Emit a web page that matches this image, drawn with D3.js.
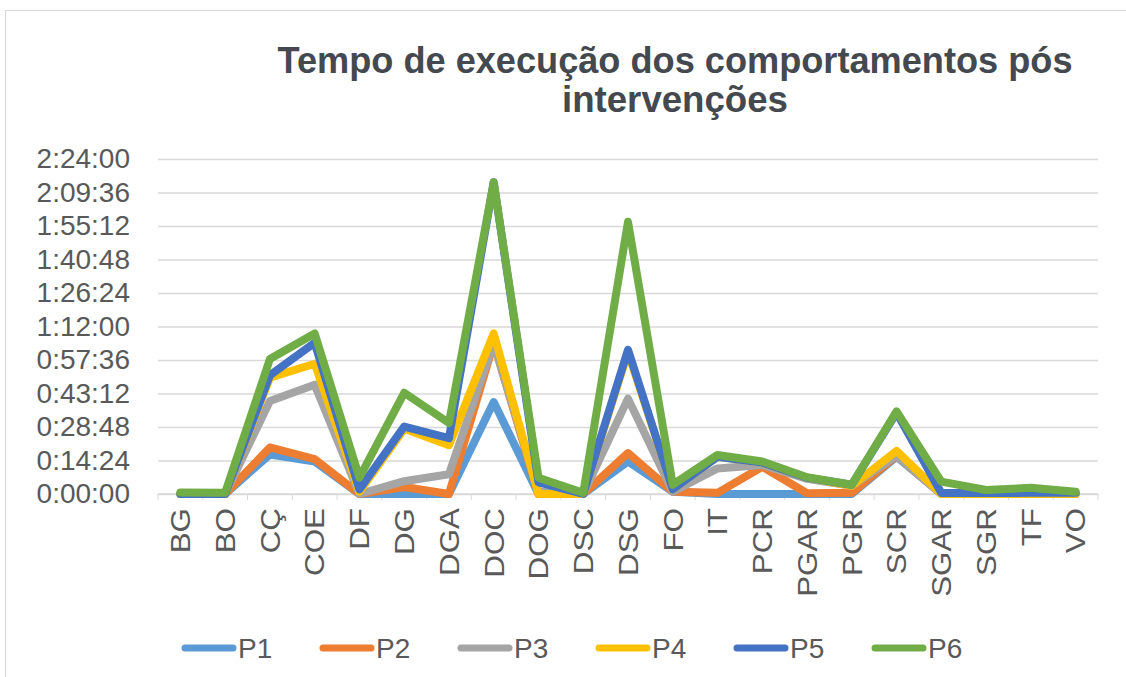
<!DOCTYPE html>
<html>
<head>
<meta charset="utf-8">
<script src="https://cdn.jsdelivr.net/npm/d3@7"></script>
<style>
  body { margin: 0; background: #fff; }
  svg { display: block; font-family: "Liberation Sans", Arial, sans-serif; }
</style>
</head>
<body>
<div id="chart"></div>
<script>
// categories (behaviours) and time per participant, in minutes
const categories = ['BG', 'BO', 'CÇ', 'COE', 'DF', 'DG', 'DGA', 'DOC', 'DOG', 'DSC', 'DSG',
    'FO', 'IT', 'PCR', 'PGAR', 'PGR', 'SCR', 'SGAR', 'SGR', 'TF', 'VO'];
const seriesNames = ['P1', 'P2', 'P3', 'P4', 'P5', 'P6'];
const p1 = [0, 0, 17, 14, 0, 0, 0, 39.5, 0, 0, 14, 1, 0, 0, 0, 0, 16, 0, 0, 0, 0];
const p2 = [0, 0, 20, 15, 0, 3, 0, 65, 0, 0, 17.6, 1, 0.5, 11.7, 0.3, 0.5, 16.5, 0, 0, 0, 0];
const p3 = [0, 0, 40, 47, 0, 5.5, 8.5, 65, 1, 0, 41, 1, 11, 12.5, 6.5, 3.5, 16.5, 0, 0, 0, 0];
const p4 = [0, 0, 50, 56, 1, 28, 21, 69, 0, 0, 61, 2, 16, 13.5, 7, 3.5, 18.5, 0, 0, 0, 0];
const p5 = [0, 0, 51, 65, 2, 29, 24, 134, 5, 0, 62, 2, 16, 13.5, 7, 4, 35, 0.4, 0.4, 0.5, 0.5];
const p6 = [0.6, 0.5, 58, 69, 7, 43.5, 30.5, 134, 7, 0.5, 117, 4, 16.8, 14, 7.2, 4, 35.5, 5.3, 1.7, 2.7, 1];
const seriesValues = [p1, p2, p3, p4, p5, p6];
const colors = ['#5B9BD5', '#ED7D31', '#A5A5A5', '#FFC000', '#4472C4', '#70AD47'];
const yTicks = [0, 14.4, 28.8, 43.2, 57.6, 72, 86.4, 100.8, 115.2, 129.6, 144];

const width = 1126, height = 677;
const plot = {left: 158, right: 1098, top: 159, bottom: 494};

const svg = d3.select('#chart').append('svg')
    .attr('width', width)
    .attr('height', height);

// chart frame
svg.append('rect')
    .attr('x', 5.5).attr('y', 10.5)
    .attr('width', 1140).attr('height', 700)
    .attr('fill', 'none')
    .attr('stroke', '#d9d9d9');

// title (slightly condensed like the original)
const title = svg.append('text')
    .attr('text-anchor', 'middle')
    .attr('fill', '#44484f')
    .attr('font-weight', 'bold')
    .attr('font-size', 37);
title.append('tspan').attr('x', 675).attr('y', 73)
    .attr('textLength', 795).attr('lengthAdjust', 'spacingAndGlyphs')
    .text('Tempo de execução dos comportamentos pós');
title.append('tspan').attr('x', 675).attr('y', 112)
    .attr('textLength', 226).attr('lengthAdjust', 'spacingAndGlyphs')
    .text('intervenções');

const x = d3.scalePoint()
    .domain(categories)
    .range([plot.left, plot.right])
    .padding(0.5);

const y = d3.scaleLinear()
    .domain([0, 144])
    .range([plot.bottom, plot.top]);

function fmtTime(m) {
    const s = Math.round(m * 60);
    const h = Math.floor(s / 3600);
    const mm = Math.floor((s % 3600) / 60);
    const ss = s % 60;
    return h + ':' + String(mm).padStart(2, '0') + ':' + String(ss).padStart(2, '0');
}

// gridlines + y labels
const yAxis = svg.append('g')
    .attr('transform', `translate(${plot.left},0)`)
    .call(d3.axisLeft(y).tickValues(yTicks).tickFormat(fmtTime)
        .tickSize(-(plot.right - plot.left)).tickPadding(28));
yAxis.select('.domain').remove();
yAxis.selectAll('.tick line').attr('stroke', '#d9d9d9').attr('stroke-width', 1.3);
yAxis.selectAll('.tick text')
    .attr('fill', '#595959')
    .attr('font-size', 28)
    .attr('font-family', '"Liberation Sans", Arial, sans-serif');

// category axis
const step = x.step();
const xAxis = svg.append('g')
    .attr('transform', `translate(0,${plot.bottom})`);
xAxis.append('line')
    .attr('x1', plot.left).attr('x2', plot.right)
    .attr('stroke', '#d9d9d9').attr('stroke-width', 1.3);
xAxis.selectAll('line.tk')
    .data(d3.range(categories.length + 1))
    .join('line')
    .attr('class', 'tk')
    .attr('x1', i => plot.left + i * step)
    .attr('x2', i => plot.left + i * step)
    .attr('y1', 0).attr('y2', 6)
    .attr('stroke', '#d9d9d9');
xAxis.selectAll('text')
    .data(categories)
    .join('text')
    .attr('transform', d => `translate(${x(d)},14) rotate(-90) scale(1.12,1)`)
    .attr('text-anchor', 'end')
    .attr('dy', '0.35em')
    .attr('fill', '#595959')
    .attr('font-size', 28)
    .text(d => d);

// lines
const line = d3.line()
    .x((d, i) => x(categories[i]))
    .y(d => y(d));

svg.append('g').selectAll('path')
    .data(seriesValues)
    .join('path')
    .attr('d', d => line(d))
    .attr('fill', 'none')
    .attr('stroke', (d, i) => colors[i])
    .attr('stroke-width', 8)
    .attr('stroke-linejoin', 'round')
    .attr('stroke-linecap', 'round');

// legend
const legend = svg.append('g').attr('transform', 'translate(185,648)');
const items = legend.selectAll('g')
    .data(seriesNames)
    .join('g')
    .attr('transform', (d, i) => `translate(${i * 138},0)`);
items.append('line')
    .attr('x1', 0).attr('x2', 48)
    .attr('stroke', (d, i) => colors[i])
    .attr('stroke-width', 7)
    .attr('stroke-linecap', 'round');
items.append('text')
    .attr('x', 53)
    .attr('dy', '0.35em')
    .attr('fill', '#595959')
    .attr('font-size', 28)
    .text(d => d);
</script>
</body>
</html>
